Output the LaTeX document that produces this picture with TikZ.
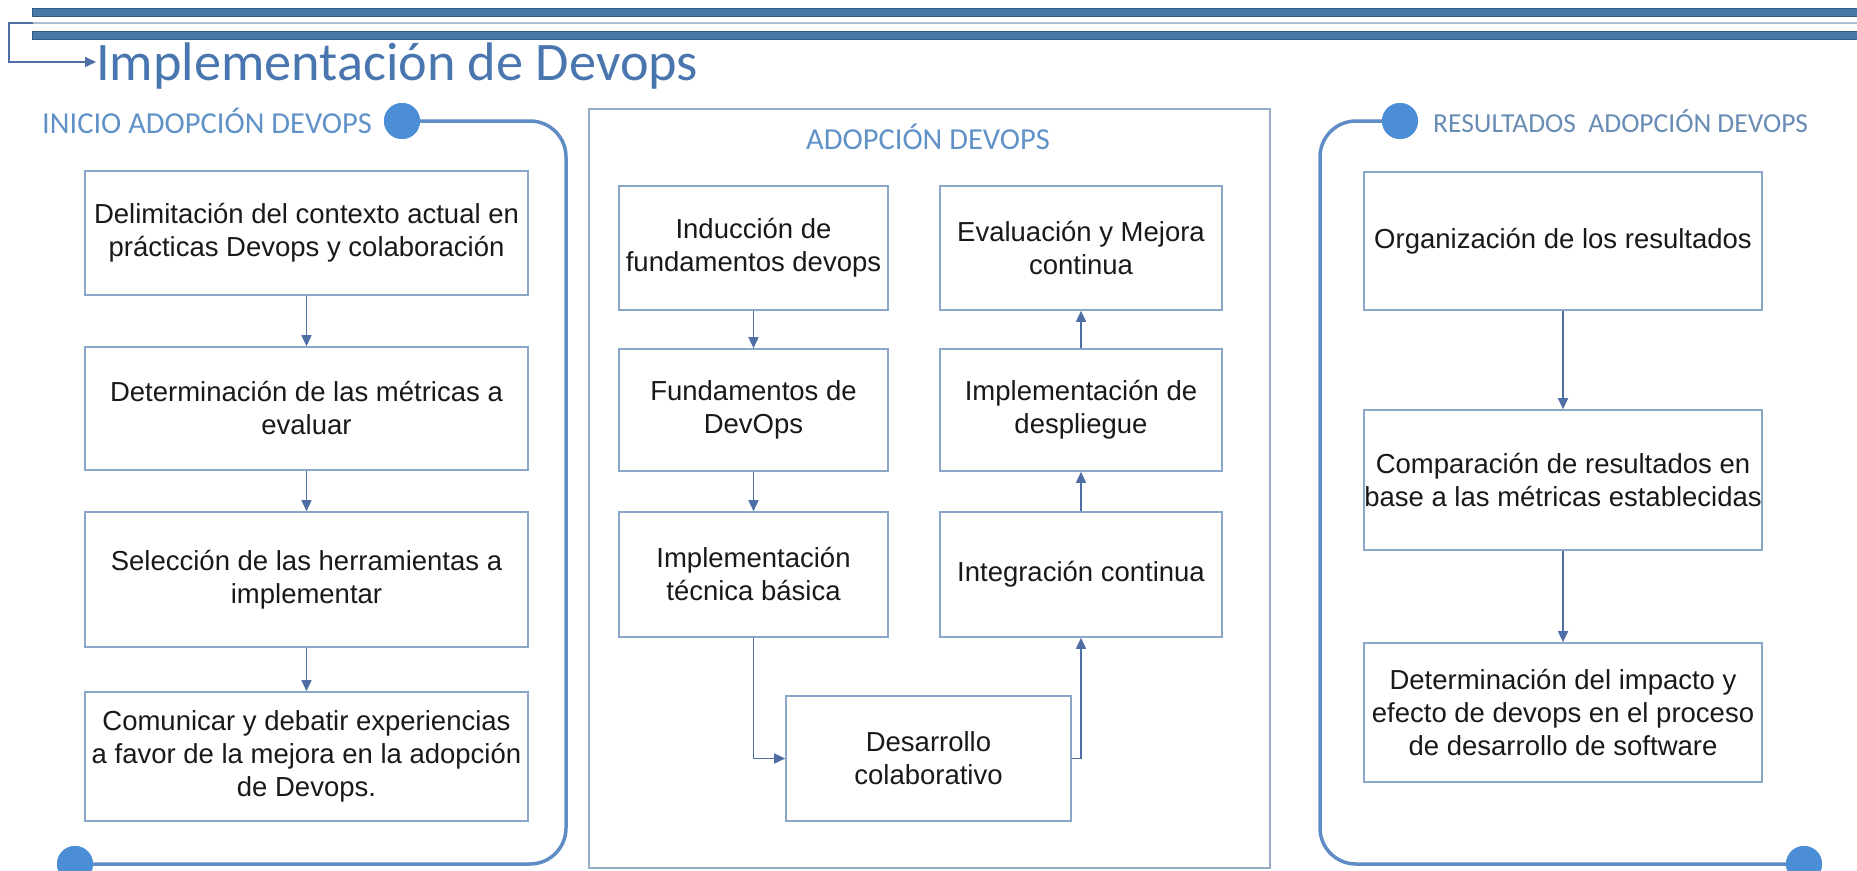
\documentclass[tikz,border=0pt]{standalone}
\usepackage{fontspec}
\setmainfont{Liberation Sans}
\newfontfamily\headfont{Carlito}
\usetikzlibrary{arrows.meta}
\definecolor{barblue}{RGB}{70,120,168}
\definecolor{bardark}{RGB}{50,90,130}
\definecolor{titleblue}{RGB}{74,118,176}
\definecolor{labelblue}{RGB}{96,146,200}
\definecolor{labelgray}{RGB}{104,140,180}
\definecolor{dotblue}{RGB}{76,142,214}
\definecolor{framelineblue}{RGB}{94,140,196}
\definecolor{boxedge}{RGB}{138,166,200}
\definecolor{arrowblue}{RGB}{78,110,165}
\definecolor{panelgray}{RGB}{150,172,196}
\definecolor{thinline}{RGB}{176,192,210}
\begin{document}
\begin{tikzpicture}[x=1pt,y=-1pt,
  stepbox/.style={draw=boxedge,line width=1.6pt,fill=white,align=center,
    font=\fontsize{27.5}{33}\selectfont,text=black!90,inner sep=0pt},
  flow/.style={draw=arrowblue,line width=1.6pt,-{Triangle[length=11pt,width=10pt]}},
  panelline/.style={draw=framelineblue,line width=3.5pt,rounded corners=36pt},
  dot/.style={circle,fill=dotblue,minimum size=36pt,inner sep=0pt},
  paneltitle/.style={text=labelblue,font=\headfont\fontsize{30.5}{34}\selectfont,inner sep=0pt}]
\useasboundingbox (0,0) rectangle (1857,870);

% header bars
\fill[barblue,draw=bardark,line width=1pt] (32,8) rectangle (1858,16);
\fill[barblue,draw=bardark,line width=1pt] (32,31) rectangle (1858,39);
\draw[thinline,line width=1.5pt] (32,23) -- (1858,23);
\coordinate (bstart) at (33,23);
\coordinate (bcorner) at (9,62);

% title
\node[anchor=base west,inner sep=0pt,text=titleblue,
  font=\headfont\fontsize{54.3}{60}\selectfont] (title) at (96,80) {Implementación de Devops};
\draw[flow] (bstart) -- (9,23) |- (title.west|-bcorner);

% left panel
\node[dot] (ldot1) at (402,121) {};
\node[dot] (ldot2) at (75,864) {};
\draw[panelline] (ldot1.center) -- (566,121) -- (566,864) -- (ldot2.center);
\node[dot] at (402,121) {};
\node[dot] at (75,864) {};
\node[paneltitle,anchor=west] (ltitle) at (42,121) {INICIO ADOPCIÓN DEVOPS};

\node[stepbox,minimum width=443pt,minimum height=124pt] (l1) at (306.5,233)
  {Delimitación del contexto actual en\\prácticas Devops y colaboración};
\node[stepbox,minimum width=443pt,minimum height=123pt] (l2) at (306.5,408.5)
  {Determinación de las métricas a\\evaluar};
\node[stepbox,minimum width=443pt,minimum height=135pt] (l3) at (306.5,579.5)
  {Selección de las herramientas a\\implementar};
\node[stepbox,minimum width=443pt,minimum height=129pt] (l4) at (306.5,756.5)
  {Comunicar y debatir experiencias\\a favor de la mejora en la adopción\\de Devops.};
\draw[flow] (l1) -- (l2);
\draw[flow] (l2) -- (l3);
\draw[flow] (l3) -- (l4);

% middle panel
\node[draw=panelgray,line width=1.4pt,minimum width=681pt,minimum height=759pt,inner sep=0pt]
  (mid) at (929.5,488.5) {};
\node[paneltitle] (mtitle) at (928,137) {ADOPCIÓN DEVOPS};

\node[stepbox,minimum width=269pt,minimum height=124pt] (m1) at (753.5,248)
  {Inducción de\\fundamentos devops};
\node[stepbox,minimum width=269pt,minimum height=122pt] (m2) at (753.5,410)
  {Fundamentos de\\DevOps};
\node[stepbox,minimum width=269pt,minimum height=125pt] (m3) at (753.5,574.5)
  {Implementación\\técnica básica};
\node[stepbox,minimum width=285pt,minimum height=125pt] (m4) at (928.5,758.5)
  {Desarrollo\\colaborativo};
\node[stepbox,minimum width=282pt,minimum height=125pt] (m5) at (1081,574.5)
  {Integración continua};
\node[stepbox,minimum width=282pt,minimum height=122pt] (m6) at (1081,410)
  {Implementación de\\despliegue};
\node[stepbox,minimum width=282pt,minimum height=124pt] (m7) at (1081,248)
  {Evaluación y Mejora\\continua};
\draw[flow] (m1) -- (m2);
\draw[flow] (m2) -- (m3);
\draw[flow] (m3.south) |- (m4.west);
\draw[flow] (m4.east) -| (m5.south);
\draw[flow] (m5) -- (m6);
\draw[flow] (m6) -- (m7);

% right panel
\node[dot] (rdot1) at (1400,121) {};
\node[dot] (rdot2) at (1804,864) {};
\draw[panelline] (rdot1.center) -- (1320,121) -- (1320,864) -- (rdot2.center);
\node[dot] at (1400,121) {};
\node[dot] at (1804,864) {};
\node[paneltitle,anchor=west,text=labelgray,font=\headfont\fontsize{27.5}{32}\selectfont]
  (rtitle) at (1433,121) {RESULTADOS\ \ ADOPCIÓN DEVOPS};

\node[stepbox,minimum width=398pt,minimum height=138pt] (r1) at (1563,241)
  {Organización de los resultados};
\node[stepbox,minimum width=398pt,minimum height=140pt] (r2) at (1563,480)
  {Comparación de resultados en\\base a las métricas establecidas};
\node[stepbox,minimum width=398pt,minimum height=139pt] (r3) at (1563,712.5)
  {Determinación del impacto y\\efecto de devops en el proceso\\de desarrollo de software};
\draw[flow] (r1) -- (r2);
\draw[flow] (r2) -- (r3);
\end{tikzpicture}
\end{document}
